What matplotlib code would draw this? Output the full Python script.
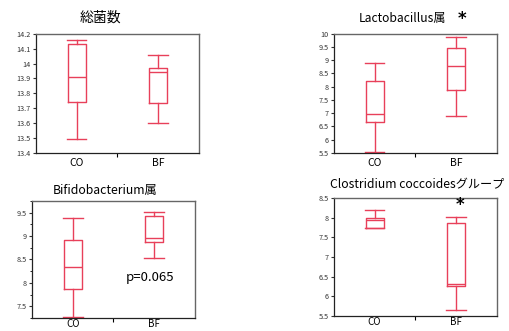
import matplotlib
matplotlib.use("Agg")
import matplotlib.pyplot as plt
from matplotlib.ticker import MultipleLocator, FuncFormatter

plt.rcParams["font.family"] = ["Noto Sans CJK JP", "DejaVu Sans"]

groups = ["CO", "BF"]
titles = ["総菌数", "Lactobacillus属", "Bifidobacterium属", "Clostridium coccoidesグループ"]

# per panel: [CO, BF]
whislo = [[13.495, 13.60], [5.53, 6.88], [7.28, 8.53], [7.75, 5.65]]
q1 = [[13.745, 13.735], [6.68, 7.87], [7.87, 8.88], [7.75, 6.27]]
med = [[13.91, 13.94], [6.98, 8.77], [8.34, 8.96], [7.93, 6.32]]
q3 = [[14.13, 13.97], [8.20, 9.47], [8.92, 9.43], [8.00, 7.87]]
whishi = [[14.155, 14.06], [8.88, 9.87], [9.38, 9.52], [8.20, 8.02]]

ylims = [(13.4, 14.2), (5.5, 10.0), (7.25, 9.75), (5.5, 8.5)]
ysteps = [0.1, 0.5, 0.5, 0.5]

RED = "#e8405a"
fig = plt.figure(figsize=(5.09, 3.31), dpi=100)
rects = [(0.0707, 0.538, 0.320, 0.360), (0.656, 0.538, 0.320, 0.360),
         (0.0629, 0.0393, 0.320, 0.3535), (0.656, 0.0453, 0.320, 0.3565)]

for k in range(4):
    ax = fig.add_axes(rects[k])
    stats = [dict(whislo=whislo[k][i], q1=q1[k][i], med=med[k][i], q3=q3[k][i],
                  whishi=whishi[k][i], fliers=[]) for i in range(2)]
    style = dict(color=RED, lw=1.0)
    ax.bxp(stats, positions=[1, 2], widths=0.22, capwidths=0.24, showfliers=False,
           boxprops=style, whiskerprops=style, capprops=style, medianprops=style)
    ax.set_xlim(0.5, 2.5)
    ax.set_ylim(*ylims[k])
    ax.set_xticks([1, 2])
    ax.set_xticklabels(groups, fontsize=7.5 if k < 2 else 7)
    ax.tick_params(axis="x", length=0, pad=4 if k < 2 else 0.5)
    ax.set_xticks([1.5], minor=True)
    ax.tick_params(axis="x", which="minor", length=3, width=0.8)
    ax.yaxis.set_major_locator(MultipleLocator(ysteps[k]))
    ax.yaxis.set_major_formatter(FuncFormatter(lambda v, p: f"{v:g}"))
    ax.tick_params(axis="y", labelsize=5.2, length=2.5, width=0.8, pad=1.5, colors="#333")
    if k == 2:
        ax.yaxis.set_minor_locator(MultipleLocator(0.25))
        ax.tick_params(axis="y", which="minor", length=1.5, width=0.6)
    for s in ["top", "right"]:
        ax.spines[s].set_color("#666")
        ax.spines[s].set_linewidth(1.0)
    for s in ["left", "bottom"]:
        ax.spines[s].set_color("#222")
        ax.spines[s].set_linewidth(0.9)

# titles
fig.text(100 / 509, 1 - 18 / 331, titles[0], ha="center", va="center", fontsize=10)
fig.text(402 / 509, 1 - 18 / 331, titles[1], ha="center", va="center", fontsize=8.7)
fig.text(105 / 509, 1 - 190 / 331, titles[2], ha="center", va="center", fontsize=8.8)
fig.text(417 / 509, 1 - 185 / 331, titles[3], ha="center", va="center", fontsize=8.75)

# significance marks
fig.text(462 / 509, 1 - 19 / 331, "*", ha="center", va="center", fontsize=12, fontweight="bold",
         family="DejaVu Sans")
fig.text(460 / 509, 1 - 205 / 331, "*", ha="center", va="center", fontsize=12, fontweight="bold",
         family="DejaVu Sans")
fig.text(150 / 509, 1 - 277 / 331, "p=0.065", ha="center", va="center", fontsize=9.5)

fig.savefig("out.png", dpi=100)
